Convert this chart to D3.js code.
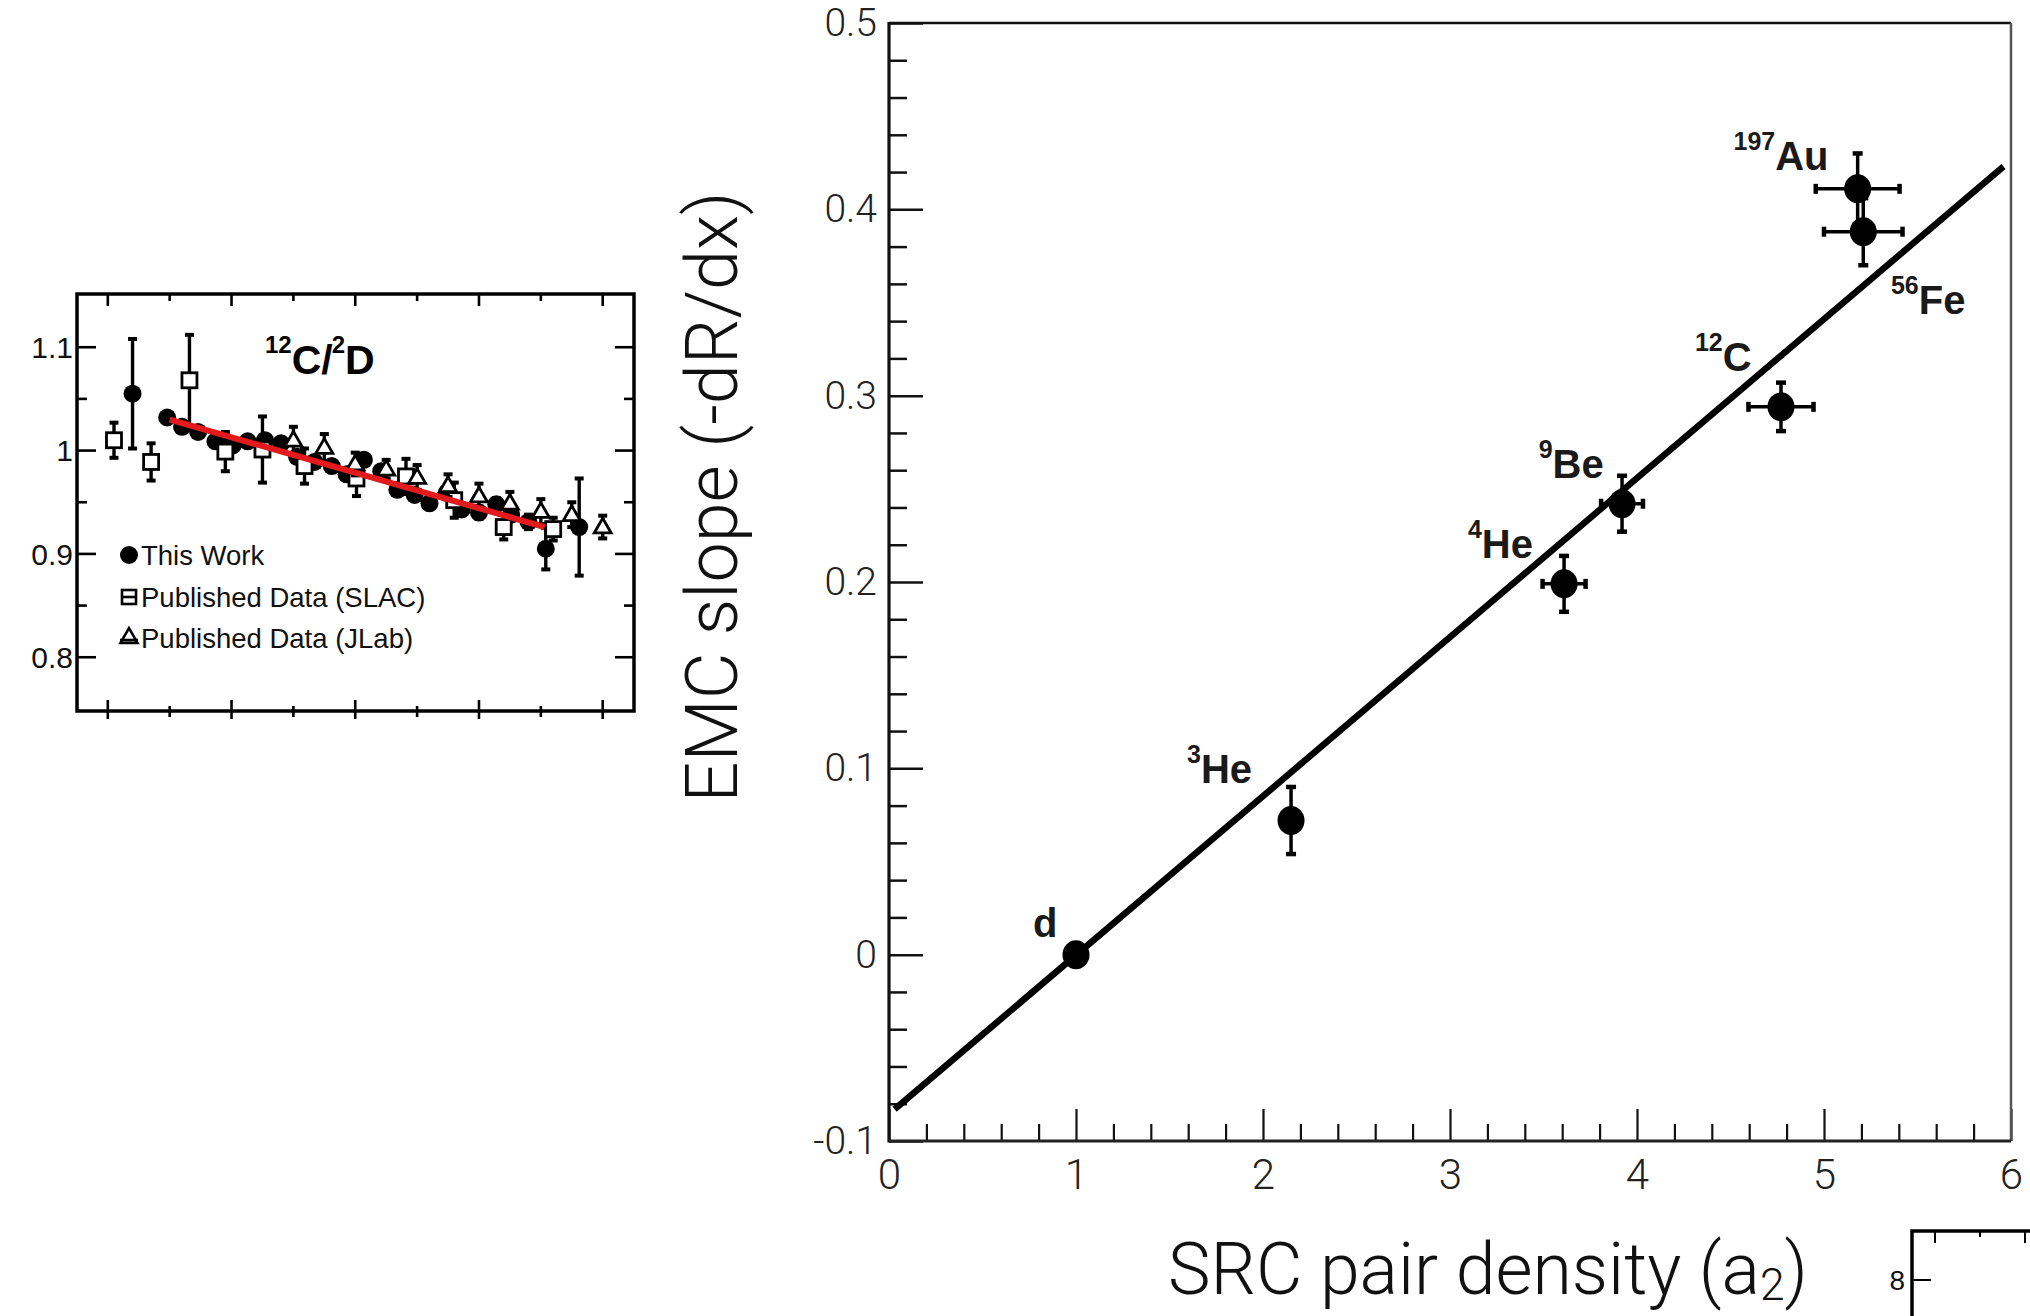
<!DOCTYPE html>
<html><head><meta charset="utf-8">
<script src="https://cdn.jsdelivr.net/npm/d3@7"></script>
<style>html,body{margin:0;padding:0;background:#fff;} svg{display:block;}</style>
</head><body>
<svg id="c" width="2030" height="1316"></svg>
<script>
// ===== Main chart data: EMC slope vs SRC pair density =====
const nuclei   = ["d", "3He", "4He", "9Be", "12C", "56Fe", "197Au"];
const a2       = [1.00, 2.15, 3.61, 3.92, 4.77, 5.21, 5.18];
const a2Err    = [0, 0, 0.115, 0.112, 0.174, 0.21, 0.224];
const emcSlope = [0.000, 0.072, 0.199, 0.242, 0.294, 0.388, 0.411];
const emcErr   = [0, 0.018, 0.015, 0.015, 0.013, 0.018, 0.019];
const fitA2    = [0.03, 5.96];
const fitSlope = [-0.083, 0.423];
const xTicks = [0, 1, 2, 3, 4, 5, 6];
const yTicks = [-0.1, 0, 0.1, 0.2, 0.3, 0.4, 0.5];
const yTickLabels = ["-0.1", "0", "0.1", "0.2", "0.3", "0.4", "0.5"];
// nucleus label annotations (anchor in data units)
const labelMass = ["", "3", "4", "9", "12", "56", "197"];
const labelSym  = ["d", "He", "He", "Be", "C", "Fe", "Au"];
const labelA2   = [0.770, 1.594, 3.096, 3.474, 4.310, 5.358, 4.516];
const labelEMC  = [0.0095, 0.092, 0.213, 0.256, 0.313, 0.344, 0.421];

// ===== Inset data: 12C/2D ratio =====
const insetXTicks = [0.30, 0.35, 0.40, 0.45, 0.50, 0.55, 0.60, 0.65, 0.70];
const insetYTicks = [0.8, 0.9, 1.0, 1.1];
const insetYTickLabels = ["0.8", "0.9", "1", "1.1"];
const insetYMinor = [0.85, 0.95, 1.05];
const thisX = [0.320,0.348,0.360,0.373,0.387,0.401,0.413,0.427,0.440,0.453,0.467,0.481,0.493,0.507,0.521,0.534,0.548,0.560,0.574,0.586,0.600,0.614,0.626,0.640,0.654,0.681];
const thisR = [1.055,1.032,1.023,1.018,1.009,1.005,1.009,1.010,1.007,0.994,0.989,0.985,0.977,0.991,0.980,0.962,0.957,0.949,0.959,0.943,0.940,0.948,0.938,0.931,0.905,0.926];
const thisErr = [0.053,0.004,0.004,0.004,0.005,0.005,0.005,0.005,0.005,0.005,0.005,0.005,0.005,0.005,0.005,0.005,0.005,0.005,0.005,0.005,0.006,0.006,0.006,0.007,0.020,0.047];
const slacX = [0.305,0.335,0.366,0.395,0.425,0.459,0.501,0.541,0.580,0.620,0.660];
const slacR = [1.010,0.989,1.068,0.999,1.001,0.985,0.973,0.975,0.952,0.926,0.924];
const slacErr = [0.017,0.018,0.044,0.019,0.032,0.017,0.017,0.017,0.017,0.012,0.011];
const jlabX = [0.450,0.475,0.500,0.525,0.550,0.575,0.600,0.625,0.650,0.675,0.700];
const jlabR = [1.010,1.003,0.987,0.982,0.974,0.966,0.956,0.949,0.941,0.938,0.926];
const jlabErr = [0.013,0.013,0.011,0.009,0.012,0.011,0.012,0.011,0.012,0.012,0.011];
const insetFitX = [0.35, 0.653];
const insetFitR = [1.030, 0.926];
const legendLabels = ["This Work", "Published Data (SLAC)", "Published Data (JLab)"];

const svg = d3.select("#c");
const LIGHT = "Roboto, 'Open Sans', Inter, sans-serif";
const ARIAL = "'Liberation Sans', Arial, sans-serif";

// ================= MAIN CHART =================
const x = d3.scaleLinear().domain([0, 6]).range([889, 2011]);
const y = d3.scaleLinear().domain([-0.1, 0.5]).range([1141, 23]);

const main = svg.append("g");

// y axis (ticks inward)
const yMinor = d3.range(-5, 26).map(i => i * 0.02).filter(v => Math.abs(v * 10 - Math.round(v * 10)) > 1e-6);
main.append("g").attr("transform", `translate(${x(0)},0)`)
  .call(d3.axisLeft(y).tickValues(yMinor).tickSize(-18).tickFormat(""))
  .call(g => g.select(".domain").remove())
  .call(g => g.selectAll("line").attr("stroke", "#111").attr("stroke-width", 2.5));
main.append("g").attr("transform", `translate(${x(0)},0)`)
  .call(d3.axisLeft(y).tickValues(yTicks).tickSize(-34).tickPadding(12)
        .tickFormat((d, i) => yTickLabels[i]))
  .call(g => g.select(".domain").remove())
  .call(g => g.selectAll("line").attr("stroke", "#111").attr("stroke-width", 2.5))
  .call(g => g.selectAll("text").attr("font-family", LIGHT).attr("font-weight", 300)
        .attr("font-size", 39).attr("fill", "#222"));

// x axis (ticks inward)
const xMinor = d3.range(0, 31).map(i => i * 0.2).filter(v => Math.abs(v - Math.round(v)) > 1e-6);
main.append("g").attr("transform", `translate(0,${y(-0.1)})`)
  .call(d3.axisBottom(x).tickValues(xMinor).tickSize(-17).tickFormat(""))
  .call(g => g.select(".domain").remove())
  .call(g => g.selectAll("line").attr("stroke", "#111").attr("stroke-width", 2.2));
main.append("g").attr("transform", `translate(0,${y(-0.1)})`)
  .call(d3.axisBottom(x).tickValues(xTicks).tickSize(-32).tickPadding(18).tickFormat(d3.format("d")))
  .call(g => g.select(".domain").remove())
  .call(g => g.selectAll("line").attr("stroke", "#111").attr("stroke-width", 2.2))
  .call(g => g.selectAll("text").attr("font-family", LIGHT).attr("font-weight", 300)
        .attr("font-size", 42).attr("fill", "#222"));

// frame
main.append("line").attr("x1", x(0)).attr("x2", x(6)).attr("y1", y(0.5)).attr("y2", y(0.5))
  .attr("stroke", "#111").attr("stroke-width", 2.5);
main.append("line").attr("x1", x(6)).attr("x2", x(6)).attr("y1", y(0.5)).attr("y2", y(-0.1))
  .attr("stroke", "#555").attr("stroke-width", 2.5);
main.append("line").attr("x1", x(0)).attr("x2", x(0)).attr("y1", y(0.5) - 1).attr("y2", y(-0.1) + 1.5)
  .attr("stroke", "#111").attr("stroke-width", 3.2);
main.append("line").attr("x1", x(0)).attr("x2", x(6)).attr("y1", y(-0.1)).attr("y2", y(-0.1))
  .attr("stroke", "#222").attr("stroke-width", 3);

// fit line
main.append("line")
  .attr("x1", x(fitA2[0])).attr("y1", y(fitSlope[0]))
  .attr("x2", x(fitA2[1])).attr("y2", y(fitSlope[1]))
  .attr("stroke", "#000").attr("stroke-width", 6.5);

// error bars + markers
const pts = nuclei.map((n, i) => ({ n, x: a2[i], y: emcSlope[i], ex: a2Err[i], ey: emcErr[i] }));
const eg = main.append("g").attr("stroke", "#000");
pts.forEach(p => {
  if (p.ex > 0) {
    eg.append("line").attr("x1", x(p.x - p.ex)).attr("x2", x(p.x + p.ex))
      .attr("y1", y(p.y)).attr("y2", y(p.y)).attr("stroke-width", 3.5);
    [p.x - p.ex, p.x + p.ex].forEach(v =>
      eg.append("line").attr("x1", x(v)).attr("x2", x(v))
        .attr("y1", y(p.y) - 5).attr("y2", y(p.y) + 5).attr("stroke-width", 4.5));
  }
  if (p.ey > 0) {
    eg.append("line").attr("x1", x(p.x)).attr("x2", x(p.x))
      .attr("y1", y(p.y - p.ey)).attr("y2", y(p.y + p.ey)).attr("stroke-width", 3.5);
    [p.y - p.ey, p.y + p.ey].forEach(v =>
      eg.append("line").attr("x1", x(p.x) - 5).attr("x2", x(p.x) + 5)
        .attr("y1", y(v)).attr("y2", y(v)).attr("stroke-width", 4.5));
  }
});
main.append("g").selectAll("ellipse").data(pts).join("ellipse")
  .attr("cx", d => x(d.x)).attr("cy", d => y(d.y)).attr("rx", 13.5).attr("ry", 14.5).attr("fill", "#000");

// nucleus labels
const lab = main.append("g").attr("font-family", ARIAL).attr("font-weight", "bold").attr("fill", "#1a1a1a");
nuclei.forEach((n, i) => {
  const t = lab.append("text").attr("x", x(labelA2[i])).attr("y", y(labelEMC[i]));
  if (labelMass[i]) {
    t.append("tspan").attr("font-size", 25).attr("dy", -20).text(labelMass[i]);
    t.append("tspan").attr("font-size", 40).attr("dy", 20).text(labelSym[i]);
  } else {
    t.append("tspan").attr("font-size", 40).text(labelSym[i]);
  }
});

// axis titles (light font, fitted to reference width)
function fitWidth(t, target) {
  const w = t.node().getComputedTextLength();
  const fs = +t.attr("font-size");
  if (w > 0) t.attr("font-size", fs * target / w);
}
const xt = main.append("text").attr("font-family", LIGHT).attr("font-weight", 300)
  .attr("font-size", 66).attr("fill", "#111").attr("text-anchor", "middle")
  .attr("x", 1488).attr("y", 1294);
xt.append("tspan").text("SRC pair density (a");
xt.append("tspan").attr("font-size", "0.62em").attr("dy", 6).text("2");
xt.append("tspan").attr("dy", -6).text(")");
fitWidth(xt, 640);

const yt = main.append("text").attr("font-family", LIGHT).attr("font-weight", 300)
  .attr("font-size", 66).attr("fill", "#111").attr("text-anchor", "middle")
  .attr("transform", "translate(737,497) rotate(-90)")
  .text("EMC slope (-dR/dx)");
fitWidth(yt, 611);

// ================= INSET =================
const xi = d3.scaleLinear().domain([0.2751, 0.7253]).range([77, 634]);
const yi = d3.scaleLinear().domain([0.748, 1.1515]).range([711, 294]);
const inset = svg.append("g");

// ticks
insetXTicks.forEach((v, i) => {
  const major = i % 2 === 0;
  inset.append("line").attr("x1", xi(v)).attr("x2", xi(v))
    .attr("y1", yi.range()[0] - (major ? 11 : 5)).attr("y2", yi.range()[0] + (major ? 8 : 6))
    .attr("stroke", "#000").attr("stroke-width", 2.6);
  inset.append("line").attr("x1", xi(v)).attr("x2", xi(v))
    .attr("y1", yi.range()[1]).attr("y2", yi.range()[1] + (major ? 12 : 7))
    .attr("stroke", "#000").attr("stroke-width", 2.6);
});
insetYTicks.concat(insetYMinor).forEach(v => {
  const major = insetYTicks.includes(v);
  const L = major ? 19 : 10;
  inset.append("line").attr("x1", xi.range()[0]).attr("x2", xi.range()[0] + L)
    .attr("y1", yi(v)).attr("y2", yi(v)).attr("stroke", "#000").attr("stroke-width", 2.6);
  inset.append("line").attr("x1", xi.range()[1] - L).attr("x2", xi.range()[1])
    .attr("y1", yi(v)).attr("y2", yi(v)).attr("stroke", "#000").attr("stroke-width", 2.6);
});
inset.append("g").selectAll("text").data(insetYTicks).join("text")
  .attr("x", 73).attr("y", d => yi(d)).attr("dy", "0.36em")
  .attr("text-anchor", "end").attr("font-family", ARIAL).attr("font-size", 30).attr("fill", "#111")
  .text((d, i) => insetYTickLabels[i]);

// frame
inset.append("rect").attr("x", xi.range()[0]).attr("y", yi.range()[1])
  .attr("width", xi.range()[1] - xi.range()[0]).attr("height", yi.range()[0] - yi.range()[1])
  .attr("fill", "none").attr("stroke", "#000").attr("stroke-width", 3.5);

// error bar helper
function errBars(g, xs, rs, es) {
  xs.forEach((v, i) => {
    const e = es[i];
    g.append("line").attr("x1", xi(v)).attr("x2", xi(v)).attr("y1", yi(rs[i] - e)).attr("y2", yi(rs[i] + e))
      .attr("stroke", "#000").attr("stroke-width", 3.4);
    [rs[i] - e, rs[i] + e].forEach(r =>
      g.append("line").attr("x1", xi(v) - 4.5).attr("x2", xi(v) + 4.5).attr("y1", yi(r)).attr("y2", yi(r))
        .attr("stroke", "#000").attr("stroke-width", 4));
  });
}
const dThis = inset.append("g");
errBars(dThis, thisX, thisR, thisErr);
dThis.selectAll("circle").data(thisX).join("circle")
  .attr("cx", d => xi(d)).attr("cy", (d, i) => yi(thisR[i])).attr("r", 9).attr("fill", "#000");

const dSlac = inset.append("g");
errBars(dSlac, slacX, slacR, slacErr);
dSlac.selectAll("rect").data(slacX).join("rect")
  .attr("x", d => xi(d) - 7.5).attr("y", (d, i) => yi(slacR[i]) - 7.5).attr("width", 15).attr("height", 15)
  .attr("fill", "#fff").attr("stroke", "#000").attr("stroke-width", 2.8);

const dJlab = inset.append("g");
errBars(dJlab, jlabX, jlabR, jlabErr);
const tri = d3.symbol().type(d3.symbolTriangle).size(125);
dJlab.selectAll("path").data(jlabX).join("path")
  .attr("d", tri).attr("transform", (d, i) => `translate(${xi(d)},${yi(jlabR[i]) + 1})`)
  .attr("fill", "#fff").attr("stroke", "#000").attr("stroke-width", 2.8);

// red fit line
inset.append("line")
  .attr("x1", xi(insetFitX[0])).attr("y1", yi(insetFitR[0]))
  .attr("x2", xi(insetFitX[1])).attr("y2", yi(insetFitR[1]))
  .attr("stroke", "#e3191c").attr("stroke-width", 6);

// inset title  12C/2D
const tt = inset.append("text").attr("x", 265).attr("y", 374).attr("font-family", ARIAL)
  .attr("font-weight", "bold").attr("fill", "#000");
tt.append("tspan").attr("font-size", 24).attr("dy", -21).text("12");
tt.append("tspan").attr("font-size", 41).attr("dy", 21).text("C/");
tt.append("tspan").attr("font-size", 24).attr("dy", -21).attr("dx", -1).text("2");
tt.append("tspan").attr("font-size", 41).attr("dy", 21).text("D");

// legend
const legY = [555, 597, 638];
const lg = inset.append("g");
lg.append("circle").attr("cx", 129).attr("cy", legY[0]).attr("r", 9).attr("fill", "#000");
lg.append("rect").attr("x", 122).attr("y", legY[1] - 7).attr("width", 14).attr("height", 14)
  .attr("fill", "#fff").attr("stroke", "#000").attr("stroke-width", 2.6);
lg.append("line").attr("x1", 121).attr("x2", 137).attr("y1", legY[1]).attr("y2", legY[1])
  .attr("stroke", "#000").attr("stroke-width", 2.6);
lg.append("path").attr("d", tri).attr("transform", `translate(129,${legY[2]})`)
  .attr("fill", "#fff").attr("stroke", "#000").attr("stroke-width", 2.6);
lg.append("line").attr("x1", 120).attr("x2", 138).attr("y1", legY[2] + 2).attr("y2", legY[2] + 2)
  .attr("stroke", "#000").attr("stroke-width", 2.6);
lg.selectAll("text").data(legendLabels).join("text")
  .attr("x", 141).attr("y", (d, i) => legY[i]).attr("dy", "0.36em")
  .attr("font-family", ARIAL).attr("font-size", 27.5).attr("fill", "#111").text(d => d);

// ================= FRAGMENT (bottom-right, neighbouring panel) =================
const fragTicksX = [0, 1, 2];
const fragYTick = [8];
const fx = d3.scaleLinear().domain([0, 2]).range([1935, 2025]);
const fy = d3.scaleLinear().domain([8, 9]).range([1280, 1180]);
const frag = svg.append("g");
frag.append("path").attr("d", `M1912,1316 V1231 H2035`).attr("fill", "none")
  .attr("stroke", "#000").attr("stroke-width", 3.5);
fragTicksX.forEach((v, i) => frag.append("line").attr("x1", fx(v)).attr("x2", fx(v))
  .attr("y1", 1231).attr("y2", 1231 + (i % 2 === 0 ? 12 : 6)).attr("stroke", "#000").attr("stroke-width", 2));
fragYTick.forEach(v => {
  frag.append("line").attr("x1", 1912).attr("x2", 1931).attr("y1", fy(v)).attr("y2", fy(v))
    .attr("stroke", "#000").attr("stroke-width", 2);
  frag.append("text").attr("x", 1905).attr("y", fy(v)).attr("dy", "0.36em").attr("text-anchor", "end")
    .attr("font-family", ARIAL).attr("font-size", 28).attr("fill", "#111").text(String(v));
});
</script>
</body></html>
